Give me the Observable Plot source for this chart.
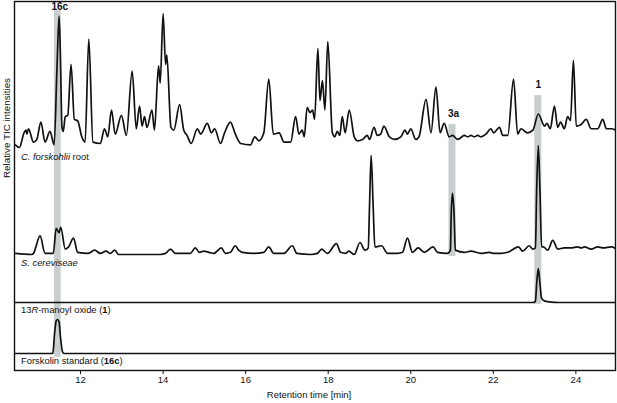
<!DOCTYPE html>
<html>
<head>
<meta charset="utf-8">
<script src="https://cdn.jsdelivr.net/npm/d3@7"></script>
<script src="https://cdn.jsdelivr.net/npm/@observablehq/plot@0.6"></script>
<style>
  html, body { margin: 0; padding: 0; background: #fff; }
  #chart svg { display: block; }
</style>
</head>
<body>
<div id="chart"></div>
<script>
// ---------- DATA (retention time [min], relative TIC intensity 0–100) ----------
const rootTrace = [
  [10.42,2],[10.52,0],[10.63,11],[10.68,13],[10.70,10],[10.74,14],[10.86,4],[10.94,6],
  [11.04,19],[11.14,4],[11.26,12],[11.36,2],[11.43,60],[11.48,98],[11.51,72],[11.55,15],
  [11.58,12],[11.63,23],[11.69,24],[11.77,62],[11.85,21],[11.93,20],[12.03,8],[12.11,4],
  [12.20,81],[12.30,4],[12.48,3],[12.58,14],[12.66,8],[12.75,28],[12.84,10],[12.99,24],
  [13.11,9],[13.25,57],[13.35,14],[13.43,31],[13.49,16],[13.55,23],[13.61,15],[13.73,28],
  [13.79,13],[13.89,61],[13.93,48],[14.00,100],[14.06,62],[14.09,69],[14.19,15],[14.26,13],
  [14.40,32],[14.50,13],[14.58,9],[14.68,3],[14.83,14],[14.91,10],[15.07,18],[15.17,11],
  [15.25,14],[15.39,3],[15.49,11],[15.63,19],[15.75,10],[15.88,3],[16.12,2],[16.22,8],
  [16.32,5],[16.44,11],[16.56,51],[16.67,10],[16.81,11],[16.93,4],[17.09,4],[17.21,23],
  [17.29,10],[17.37,13],[17.42,8],[17.49,30],[17.56,26],[17.62,28],[17.67,21],[17.75,74],
  [17.80,35],[17.86,50],[17.92,28],[17.99,79],[18.10,11],[18.16,8],[18.22,12],[18.28,9],
  [18.34,23],[18.41,11],[18.51,28],[18.63,8],[18.71,5],[18.83,6],[18.95,9],[19.00,6],
  [19.11,15],[19.19,9],[19.27,10],[19.35,16],[19.48,8],[19.60,6],[19.76,8],[19.86,13],
  [19.92,10],[20.00,14],[20.12,6],[20.20,8],[20.37,36],[20.49,11],[20.61,45],[20.71,11],
  [20.81,18],[20.93,8],[21.01,9],[21.14,6],[21.30,9],[21.38,8],[21.46,9],[21.54,8],
  [21.62,9],[21.70,8],[21.82,10],[21.94,14],[22.01,11],[22.15,15],[22.23,9],[22.35,9],
  [22.49,51],[22.59,10],[22.67,14],[22.83,11],[22.96,13],[23.09,25],[23.24,16],[23.30,18],
  [23.38,14],[23.48,31],[23.56,15],[23.63,19],[23.72,14],[23.80,23],[23.87,20],[23.94,65],
  [24.01,16],[24.12,17],[24.25,21],[24.37,14],[24.53,14],[24.65,21],[24.74,14],[24.86,14],
  [24.97,13]
];

const yeastTrace = [
  [10.42,1],[10.82,0],[10.86,1],[11.02,17],[11.14,1],[11.34,1],[11.41,24],[11.48,20],
  [11.52,25],[11.63,5],[11.71,7],[11.83,15],[11.93,2],[12.19,1],[12.34,4],[12.48,1],
  [12.62,3],[12.72,1],[12.83,4],[12.92,0],[13.21,0],[13.45,0],[13.69,0],[13.93,0],
  [14.06,1],[14.18,5],[14.30,1],[14.46,1],[14.66,1],[14.78,6],[14.88,2],[14.99,3],
  [15.11,2],[15.23,1],[15.41,6],[15.51,1],[15.63,2],[15.75,8],[15.83,4],[15.92,2],
  [16.20,1],[16.44,2],[16.56,7],[16.68,1],[16.93,1],[17.13,8],[17.24,1],[17.58,0],
  [17.74,1],[17.84,5],[17.98,1],[18.20,10],[18.30,2],[18.42,1],[18.50,3],[18.63,0],
  [18.77,11],[18.89,4],[18.97,6],[19.00,43],[19.04,91],[19.09,43],[19.13,7],[19.29,8],
  [19.44,1],[19.68,1],[19.80,2],[19.92,15],[20.04,2],[20.18,6],[20.33,2],[20.54,7],
  [20.65,2],[20.89,1],[20.96,4],[20.98,37],[21.01,56],[21.05,37],[21.08,4],[21.30,2],
  [21.46,3],[21.70,1],[21.90,2],[22.02,1],[22.19,1],[22.35,2],[22.61,7],[22.71,3],
  [22.87,8],[22.96,5],[23.02,6],[23.05,59],[23.09,100],[23.13,59],[23.17,7],[23.21,7],
  [23.32,4],[23.44,13],[23.56,5],[23.72,6],[23.89,6],[24.03,7],[24.13,6],[24.21,7],
  [24.37,5],[24.53,7],[24.66,6],[24.86,7],[24.98,5]
];

const manoylTrace = [
  [10.40,0],[22.95,0],[23.02,3],[23.05,55],[23.09,100],[23.13,55],[23.17,12],[23.25,4],
  [23.40,1],[23.60,0],[24.98,0]
];

const forskolinTrace = [
  [10.40,0],[11.30,0],[11.33,2],[11.37,58],[11.41,96],[11.44,100],[11.48,93],[11.51,53],
  [11.56,6],[11.60,0],[24.98,0]
];

const xTicks = [12, 14, 16, 18, 20, 22, 24];
const bandTimes = [11.45, 21.01, 23.09];
const bandLabels = ["16c", "3a", "1"];

const traceLabels = [
  [{s: "C. forskohlii", i: true}, {s: " root"}],
  [{s: "S. cereviseae", i: true}],
  [{s: "13"}, {s: "R", i: true}, {s: "-manoyl oxide ("}, {s: "1", b: true}, {s: ")"}],
  [{s: "Forskolin standard ("}, {s: "16c", b: true}, {s: ")"}]
];

// ---------- LAYOUT (stack units of the shared y scale, 0–100) ----------
const lanes = [
  {trace: rootTrace,      base: 60.43, scale: 0.3631, labelY: 57.8},
  {trace: yeastTrace,     base: 31.44, scale: 0.2954, labelY: 29.1},
  {trace: manoylTrace,    base: 18.43, scale: 0.0921, labelY: 16.45},
  {trace: forskolinTrace, base: 4.61,  scale: 0.0921, labelY: 2.55}
];
const bandLayout = [
  {y1: 3.6,  y2: 97.5, halfWidth: 0.082, labelY: 98.6, dx: 2},
  {y1: 30.9, y2: 66.7, halfWidth: 0.085, labelY: 69.5, dx: 1},
  {y1: 17.9, y2: 74.5, halfWidth: 0.085, labelY: 77.5, dx: 0}
];

const bands = bandTimes.map((t, i) => ({
  t, label: bandLabels[i], x1: t - bandLayout[i].halfWidth, x2: t + bandLayout[i].halfWidth,
  y1: bandLayout[i].y1, y2: bandLayout[i].y2, labelY: bandLayout[i].labelY, dx: bandLayout[i].dx
}));

const labelRows = traceLabels.map((segs, i) => ({
  text: segs.map(d => d.s).join(""), y: lanes[i].labelY, segs
}));

const marks = [
  Plot.rect(bands, {x1: "x1", x2: "x2", y1: "y1", y2: "y2", fill: "#c9cfcf"}),
  ...lanes.map(l => Plot.line(l.trace, {
    x: d => d[0], y: d => l.base + d[1] * l.scale,
    stroke: "#111", strokeWidth: 1.7, curve: "monotone-x", clip: true, strokeLinejoin: "round"
  })),
  ...bands.map(b => Plot.text([b], {
    x: "t", y: "labelY", text: "label", dx: b.dx, fontWeight: "bold", fontSize: 10, fill: "#111"
  })),
  Plot.text(labelRows, {
    frameAnchor: "left", y: "y", text: "text", textAnchor: "start", dx: 6.5, fill: "#111"
  }),
  Plot.text(["Relative TIC intensities"], {
    frameAnchor: "left", rotate: -90, dx: -8, dy: -8, fill: "#111", fontSize: 9.8
  }),
  Plot.text(["Retention time [min]"], {
    frameAnchor: "bottom", dx: -6, dy: 27, fill: "#111", fontSize: 9.5
  }),
  Plot.axisX({ticks: xTicks, tickSize: 4, tickPadding: 2, label: null, stroke: "#111", color: "#111", fontSize: 9.5}),
  Plot.frame({stroke: "#111", strokeWidth: 1.4})
];

const chart = Plot.plot({
  width: 617,
  height: 403,
  marginLeft: 14,
  marginRight: 2,
  marginTop: 1,
  marginBottom: 33,
  style: {fontFamily: "'Liberation Sans', Arial, Helvetica, sans-serif", fontSize: "9.4px", color: "#111", background: "#fff"},
  x: {domain: [10.40, 24.96], label: null},
  y: {domain: [0, 100], axis: null},
  marks
});

// Rich text (italic / bold segments) for trace labels
const richMap = new Map(labelRows.map(r => [r.text, r.segs]));
chart.querySelectorAll("text").forEach(el => {
  const segs = richMap.get(el.textContent);
  if (!segs) return;
  el.textContent = "";
  for (const seg of segs) {
    const ts = document.createElementNS("http://www.w3.org/2000/svg", "tspan");
    ts.textContent = seg.s;
    if (seg.i) ts.setAttribute("font-style", "italic");
    if (seg.b) ts.setAttribute("font-weight", "bold");
    el.appendChild(ts);
  }
});

document.getElementById("chart").appendChild(chart);
</script>
</body>
</html>
